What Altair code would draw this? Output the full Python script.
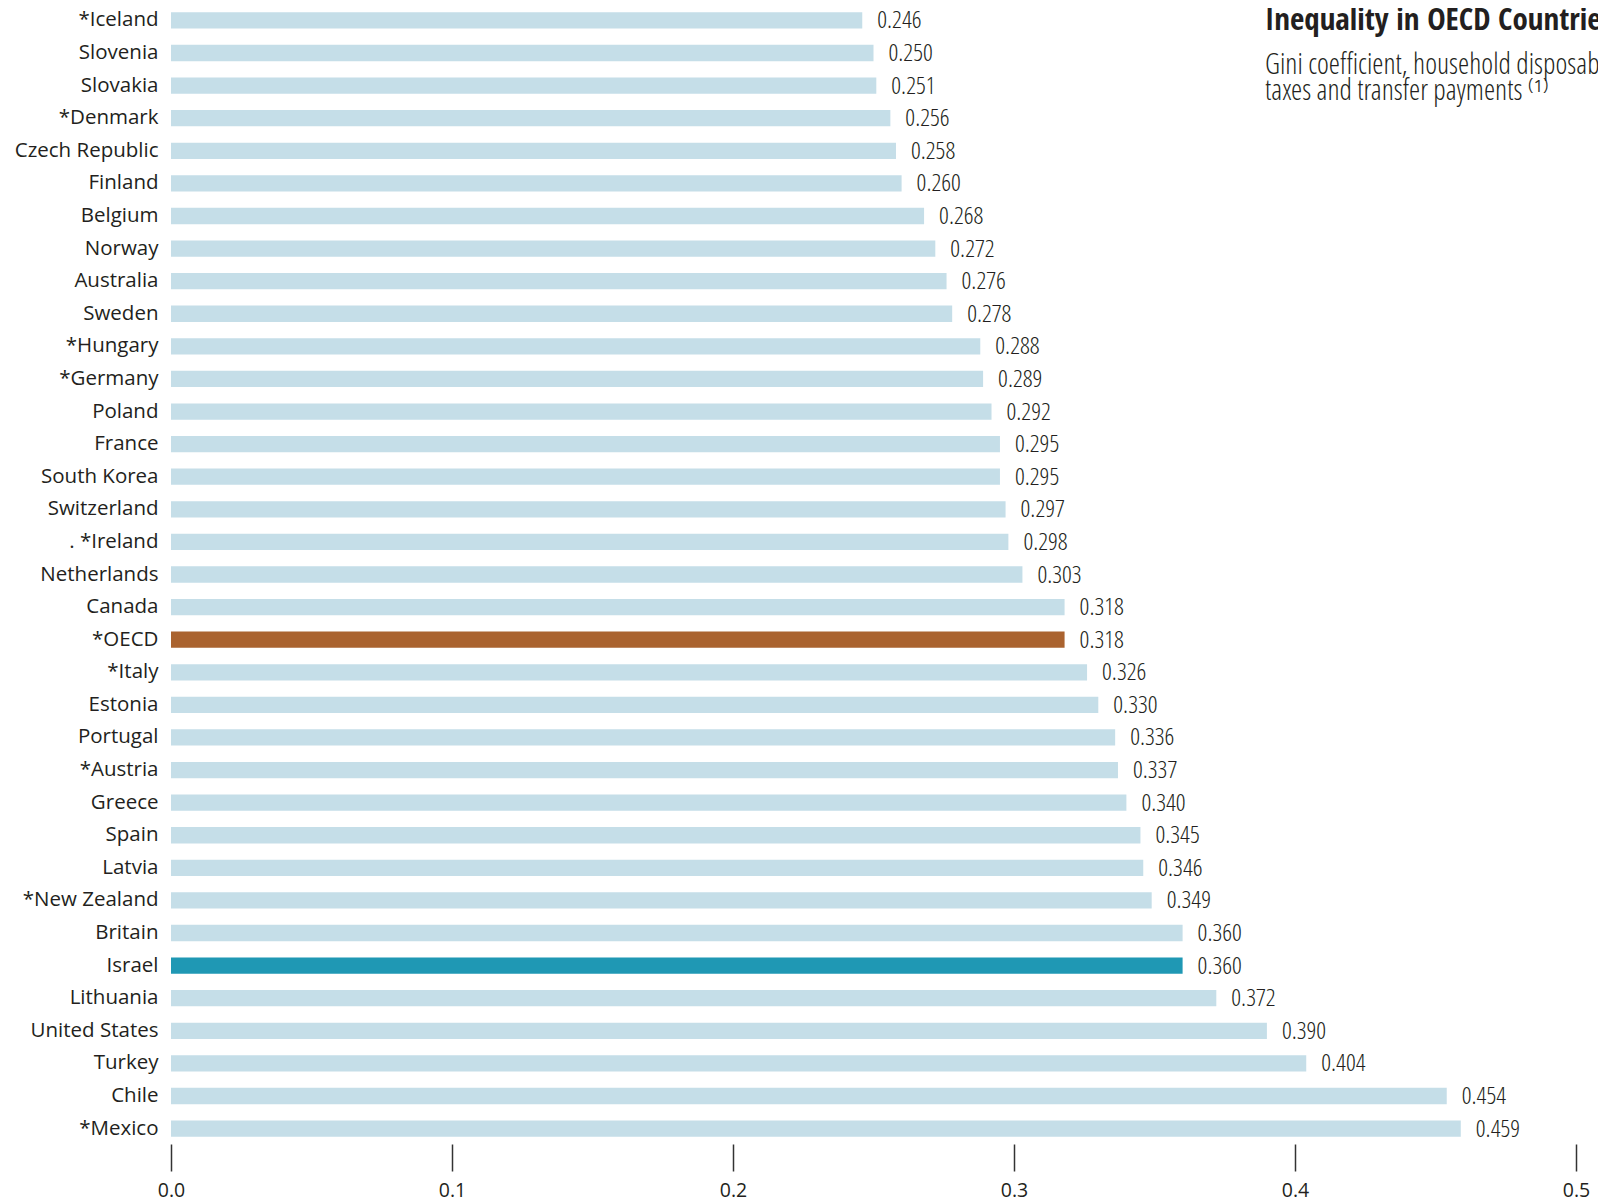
import altair as alt
import pandas as pd

countries = ["*Iceland", "Slovenia", "Slovakia", "*Denmark", "Czech Republic", "Finland",
             "Belgium", "Norway", "Australia", "Sweden", "*Hungary", "*Germany", "Poland",
             "France", "South Korea", "Switzerland", ". *Ireland", "Netherlands", "Canada",
             "*OECD", "*Italy", "Estonia", "Portugal", "*Austria", "Greece", "Spain", "Latvia",
             "*New Zealand", "Britain", "Israel", "Lithuania", "United States", "Turkey",
             "Chile", "*Mexico"]
gini = [0.246, 0.250, 0.251, 0.256, 0.258, 0.260, 0.268, 0.272, 0.276, 0.278, 0.288, 0.289,
        0.292, 0.295, 0.295, 0.297, 0.298, 0.303, 0.318, 0.318, 0.326, 0.330, 0.336, 0.337,
        0.340, 0.345, 0.346, 0.349, 0.360, 0.360, 0.372, 0.390, 0.404, 0.454, 0.459]
highlight = {"*OECD": "oecd", "Israel": "israel"}
x_ticks = [0.0, 0.1, 0.2, 0.3, 0.4, 0.5]

title_text = "Inequality in OECD Countries"
subtitle_lines = ["Gini coefficient, household disposable income, after",
                  "taxes and transfer payments \u207d\u00b9\u207e"]

df = pd.DataFrame({
    "country": countries,
    "gini": gini,
    "group": [highlight.get(c, "other") for c in countries],
})

TEXT = "#231f20"
NARROW = "'Open Sans Condensed Light', 'Open Sans Condensed', 'Liberation Sans Narrow', 'Open Sans', sans-serif"
NARROW_BOLD = "'Open Sans Condensed', 'Liberation Sans Narrow', 'Open Sans', sans-serif"

y_enc = alt.Y("country:N", sort=countries,
              scale=alt.Scale(paddingInner=0.5, paddingOuter=0.07),
              axis=alt.Axis(title=None, domain=False, ticks=False, labelFont="Open Sans",
                            labelFontSize=20.5, labelColor=TEXT, labelPadding=13,
                            labelLimit=300))
x_enc = alt.X("gini:Q", scale=alt.Scale(domain=[0, 0.5], nice=False),
              axis=alt.Axis(title=None, values=x_ticks, format=".1f", domain=False,
                            grid=False, ticks=True, tickSize=27, tickWidth=1.5,
                            tickColor="#333333", offset=5, labelFont="Open Sans",
                            labelFontSize=19.5, labelColor=TEXT, labelPadding=10,
                            labelFlush=False))

bars = alt.Chart(df).mark_bar().encode(
    x=x_enc,
    y=y_enc,
    color=alt.Color("group:N",
                    scale=alt.Scale(domain=["other", "oecd", "israel"],
                                    range=["#c5dee8", "#aa632f", "#1f98b4"]),
                    legend=None),
)

labels = alt.Chart(df).mark_text(align="left", baseline="middle", dx=15, dy=1, font=NARROW,
                                 fontSize=24.5, fontWeight=300, color=TEXT).encode(
    x="gini:Q",
    y=alt.Y("country:N", sort=countries),
    text=alt.Text("gini:Q", format=".3f"),
)

title_df = pd.DataFrame({"t": [title_text]})
title = alt.Chart(title_df).mark_text(align="left", baseline="alphabetic", font=NARROW_BOLD,
                                      fontSize=31, fontWeight="bold", color=TEXT).encode(
    x=alt.value(1094), y=alt.value(19.5), text="t:N")

sub1 = alt.Chart(pd.DataFrame({"t": [subtitle_lines[0]]})).mark_text(
    align="left", baseline="alphabetic", font=NARROW, fontSize=28.5, fontWeight=300,
    color=TEXT).encode(x=alt.value(1094), y=alt.value(63.5), text="t:N")
sub2 = alt.Chart(pd.DataFrame({"t": [subtitle_lines[1]]})).mark_text(
    align="left", baseline="alphabetic", font=NARROW, fontSize=28.5, fontWeight=300,
    color=TEXT).encode(x=alt.value(1094), y=alt.value(90), text="t:N")

chart = alt.layer(bars, labels, title, sub1, sub2).properties(
    width=1405, height=1129,
    padding={"left": 163, "top": 2, "right": 22, "bottom": 62},
    autosize=alt.AutoSizeParams(type="none"),
    background="white",
).configure_view(strokeWidth=0, stroke="transparent")

chart.save("out.html", embed_options={"renderer": "svg", "actions": False})
